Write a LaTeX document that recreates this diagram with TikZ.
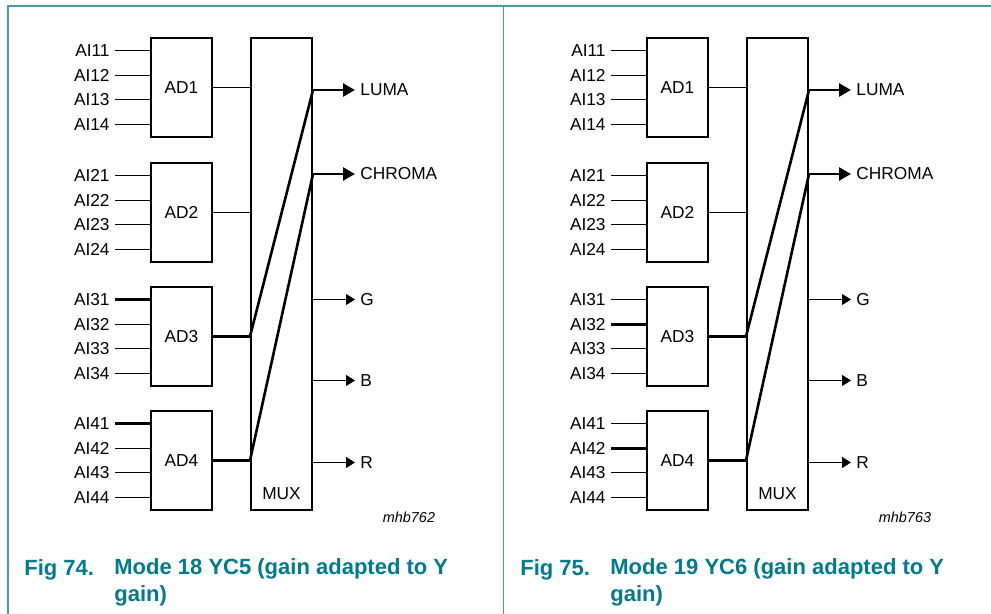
\documentclass[tikz,border=0pt]{standalone}
\usepackage{fontspec}
\setmainfont{Liberation Sans}
\usepackage{tikz}
\usetikzlibrary{arrows.meta, positioning}
\definecolor{framecol}{RGB}{70,155,180}
\definecolor{figcol}{RGB}{0,122,142}
\newcommand{\lblfont}{\fontsize{8.65}{10}\selectfont}

% one panel: prefix, x offset, thick input (AD3/AD4), fig no., mode, code
\newcommand{\muxpanel}[6]{%
\begin{scope}[shift={(#2,0)}]
  \node[muxbox] (#1mux) at (281.5,274) {};
  \node[lbl, above=5.5pt of #1mux.south, inner sep=0pt] (#1muxlab) {MUX};

  %% converters and their inputs
  \foreach \k/\yc in {1/87.5,2/212.5,3/336.5,4/460.5} {
    \node[adbox] (#1ad\k) at (181.5,\yc) {AD\k};
    \foreach \j/\dy in {1/-37,2/-12,3/12,4/37} {
      \node[inlbl] (#1ai\k\j) at (115,{\yc+(\dy)}) {AI\k\j};
      \draw[wire] (#1ai\k\j.east) -- (#1ad\k.west |- #1ai\k\j.east);
    }
  }
  \draw[bus] (#1ai3#3.east) -- (#1ad3.west |- #1ai3#3.east);
  \draw[bus] (#1ai4#3.east) -- (#1ad4.west |- #1ai4#3.east);

  %% outputs
  \node[outlbl] (#1luma) at (355,90) {LUMA};
  \node[outlbl] (#1chroma) at (355,174) {CHROMA};
  \node[outlbl] (#1g) at (355,299.5) {G};
  \node[outlbl] (#1b) at (355,380.5) {B};
  \node[outlbl] (#1r) at (355,462.5) {R};

  \draw[wire] (#1ad1.east) -- (#1mux.west |- #1ad1.east);
  \draw[wire] (#1ad2.east) -- (#1mux.west |- #1ad2.east);
  \draw[bus] (#1ad3.east) -- (#1mux.west |- #1ad3.east)
    -- (#1mux.east |- #1luma.west);
  \draw[bus] (#1ad4.east) -- (#1mux.west |- #1ad4.east)
    -- (#1mux.east |- #1chroma.west);

  \draw[busarr] (#1mux.east |- #1luma.west) -- (#1luma.west);
  \draw[busarr] (#1mux.east |- #1chroma.west) -- (#1chroma.west);
  \draw[outarr] (#1mux.east |- #1g.west) -- (#1g.west);
  \draw[outarr] (#1mux.east |- #1b.west) -- (#1b.west);
  \draw[outarr] (#1mux.east |- #1r.west) -- (#1r.west);

  \node[codelbl] (#1code) at (409,517) {#6};

  %% caption
  \node[figlbl] (#1fig) at (24,575) {Fig #4.};
  \node[figlbl] (#1cap) at (114,602) {#5 (gain adapted to Y\\gain)};
\end{scope}}

\begin{document}
\begin{tikzpicture}[x=0.5pt, y=-0.5pt,
  adbox/.style={draw, line width=1pt, minimum width=30.5pt,
    minimum height=49.5pt, inner sep=0pt, font=\lblfont},
  muxbox/.style={draw, line width=1pt, minimum width=30.5pt,
    minimum height=236pt, inner sep=0pt},
  lbl/.style={font=\lblfont},
  inlbl/.style={anchor=east, inner sep=2.5pt, font=\lblfont},
  outlbl/.style={anchor=west, inner sep=2.5pt, font=\lblfont},
  wire/.style={line width=0.6pt},
  bus/.style={line width=1.3pt},
  outarr/.style={wire, -{Triangle[length=4.5pt,width=5.5pt]}},
  busarr/.style={bus, -{Triangle[length=6pt,width=6.5pt]}},
  codelbl/.style={font=\fontsize{7.2}{8}\selectfont\itshape},
  figlbl/.style={anchor=base west, inner sep=0pt, text=figcol,
    font=\fontsize{11}{13.5}\selectfont\bfseries, align=left}
]
  \useasboundingbox (0,0) rectangle (991,614);

  %% frame
  \draw[framecol, line width=0.75pt] (8,614) -- (8,6) -- (991,6);
  \draw[framecol, line width=0.75pt] (503.5,6) -- (503.5,614);

  \muxpanel{L}{0}{1}{74}{Mode 18 YC5}{mhb762}
  \muxpanel{R}{496}{2}{75}{Mode 19 YC6}{mhb763}
\end{tikzpicture}
\end{document}
